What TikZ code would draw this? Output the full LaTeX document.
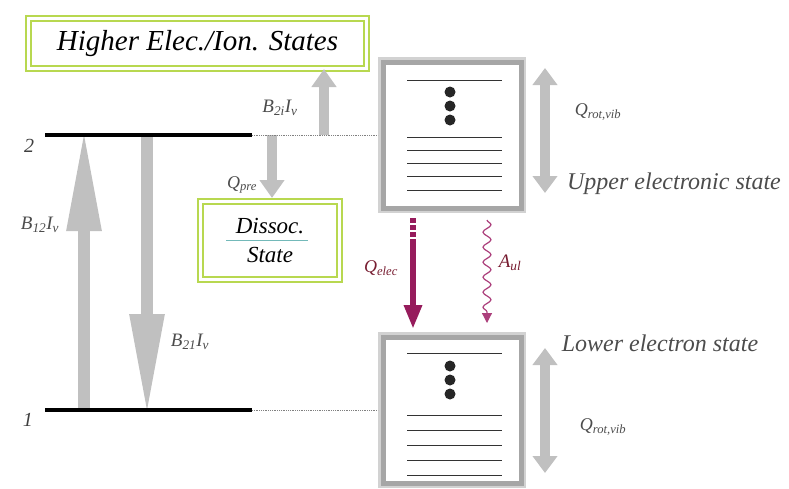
\documentclass[tikz,border=0pt]{standalone}
\usepackage{fontspec}
\setmainfont{Liberation Serif}
\usetikzlibrary{arrows.meta,decorations.pathmorphing,positioning}
\definecolor{boxgreen}{RGB}{184,216,80}
\definecolor{arrowgray}{RGB}{192,192,192}
\definecolor{elecpurple}{RGB}{150,28,92}
\definecolor{aulpurple}{RGB}{172,64,124}
\definecolor{labelred}{RGB}{120,30,50}
\newcommand{\fs}[1]{\fontsize{#1}{#1}\selectfont}
\tikzset{
  level/.style={line width=4pt, black},
  tieline/.style={densely dotted, gray, line width=0.8pt},
  greenbox/.style={draw=boxgreen, line width=2.2pt, double=white, double distance=2.5pt,
    fill=white, font=\itshape, align=center, inner sep=0pt},
  statebox/.style={draw=gray!70, line width=5pt, preaction={draw=gray!35, line width=10pt},
    fill=white, minimum width=138pt, minimum height=146pt, outer sep=5pt},
  bigarrow/.style={arrowgray, line width=12pt, -{Triangle[width=32pt,length=102pt]}},
  smallarrow/.style={arrowgray, line width=10pt, -{Triangle[width=24pt,length=18pt]}},
  twoarrow/.style={arrowgray, line width=10pt, {Triangle[width=24pt,length=17pt]}-{Triangle[width=24pt,length=17pt]}},
  sublevel/.style={line width=0.9pt, black!80},
  lab/.style={font=\itshape\fs{19}, text=black!70, inner sep=0pt}
}
\begin{document}
\begin{tikzpicture}[x=1pt,y=-1pt]
\useasboundingbox (0,0) rectangle (789,488);
% state boxes
\node[greenbox, minimum width=338pt, minimum height=50pt, font=\itshape\fs{29}] (higher) at (197.5,43.5) {Higher Elec./Ion. States};
\node[greenbox, minimum width=139pt, minimum height=78pt, font=\itshape\fs{23}] (dissoc) at (270,240.5) {Dissoc.\\[6pt]State};
\draw[teal!55, line width=0.8pt] (226,240) -- (308,240);
\node[statebox] (upper) at (452,135) {};
\node[statebox] (lower) at (452,410) {};
% rotational / vibrational levels
\foreach \y in {80,137,150,163,176,190} \draw[sublevel] (407,\y) -- (502,\y);
\foreach \y in {92,106,120} \fill[black!85] (450,\y) circle (5.5pt);
\foreach \y in {353,415,430,445,460,475} \draw[sublevel] (407,\y) -- (502,\y);
\foreach \y in {366,380,394} \fill[black!85] (450,\y) circle (5.5pt);
% coordinates
\coordinate (l2a) at (45,135);
\coordinate (l2b) at (252,135);
\coordinate (l1a) at (45,410);
\coordinate (l1b) at (252,410);
\coordinate (b12s) at (84,410);
\coordinate (b12e) at (84,129);
\coordinate (b21s) at (147,135);
\coordinate (b21e) at (147,416);
\coordinate (b2is) at (324,135);
\coordinate (b2ie) at (324,69);
\coordinate (qps) at (272,135);
\coordinate (qpe) at (272,198);
\coordinate (qe1) at (413,218);
\coordinate (qe2) at (413,244);
\coordinate (qe3) at (413,329);
\coordinate (aus) at (487,220);
\coordinate (aue) at (487,323);
\coordinate (ru1) at (545,68);
\coordinate (ru2) at (545,193);
\coordinate (rl1) at (545,348);
\coordinate (rl2) at (545,473);
% radiative transitions
\draw[bigarrow] (b12s) -- (b12e);
\draw[bigarrow] (b21s) -- (b21e);
\draw[smallarrow] (b2is) -- (b2ie);
\draw[smallarrow] (qps) -- (qpe);
% energy levels
\draw[level] (l2a) -- (l2b);
\draw[tieline] (l2b) -- (upper.west);
\draw[level] (l1a) -- (l1b);
\draw[tieline] (l1b) -- (lower.west);
% electronic quenching and spontaneous emission
\draw[elecpurple, line width=6pt, dash pattern=on 5pt off 2pt] (qe1) -- (qe2);
\draw[elecpurple, line width=6pt, -{Triangle[width=17pt,length=24pt]}] (qe2) -- (qe3);
\draw[aulpurple, line width=1.2pt, decorate,
  decoration={snake, amplitude=4pt, segment length=15pt, post length=10pt},
  -{Triangle[width=10pt,length=10pt]}] (aus) -- (aue);
% rotational / vibrational transfer
\draw[twoarrow] (ru1) -- (ru2);
\draw[twoarrow] (rl1) -- (rl2);
% labels
\node[font=\itshape\fs{20}, text=black!75] (lab2) at (29,146) {2};
\node[font=\itshape\fs{20}, text=black!75] (lab1) at (28,420) {1};
\node[lab] (lb12) at (40,225) {B\textsubscript{12}I\textsubscript{ν}};
\node[lab] (lb21) at (190,342) {B\textsubscript{21}I\textsubscript{ν}};
\node[lab] (lb2i) at (280,108) {B\textsubscript{2i}I\textsubscript{ν}};
\node[lab, font=\itshape\fs{18}] (lqpre) at (242,185) {Q\textsubscript{pre}};
\node[lab, font=\itshape\fs{18}, text=labelred] (lqel) at (381,268) {Q\textsubscript{elec}};
\node[lab, font=\itshape\fs{19}, text=labelred] (laul) at (510,263) {A\textsubscript{ul}};
\node[lab, font=\itshape\fs{18}] (lqru) at (598,112) {Q\textsubscript{rot,vib}};
\node[lab, font=\itshape\fs{18}] (lqrl) at (603,427) {Q\textsubscript{rot,vib}};
\node[font=\itshape\fs{24}, text=black!70, inner sep=0pt] (lupper) at (674,184) {Upper electronic state};
\node[font=\itshape\fs{24}, text=black!70, inner sep=0pt] (llower) at (660,343) {Lower electron state};
\end{tikzpicture}
\end{document}
